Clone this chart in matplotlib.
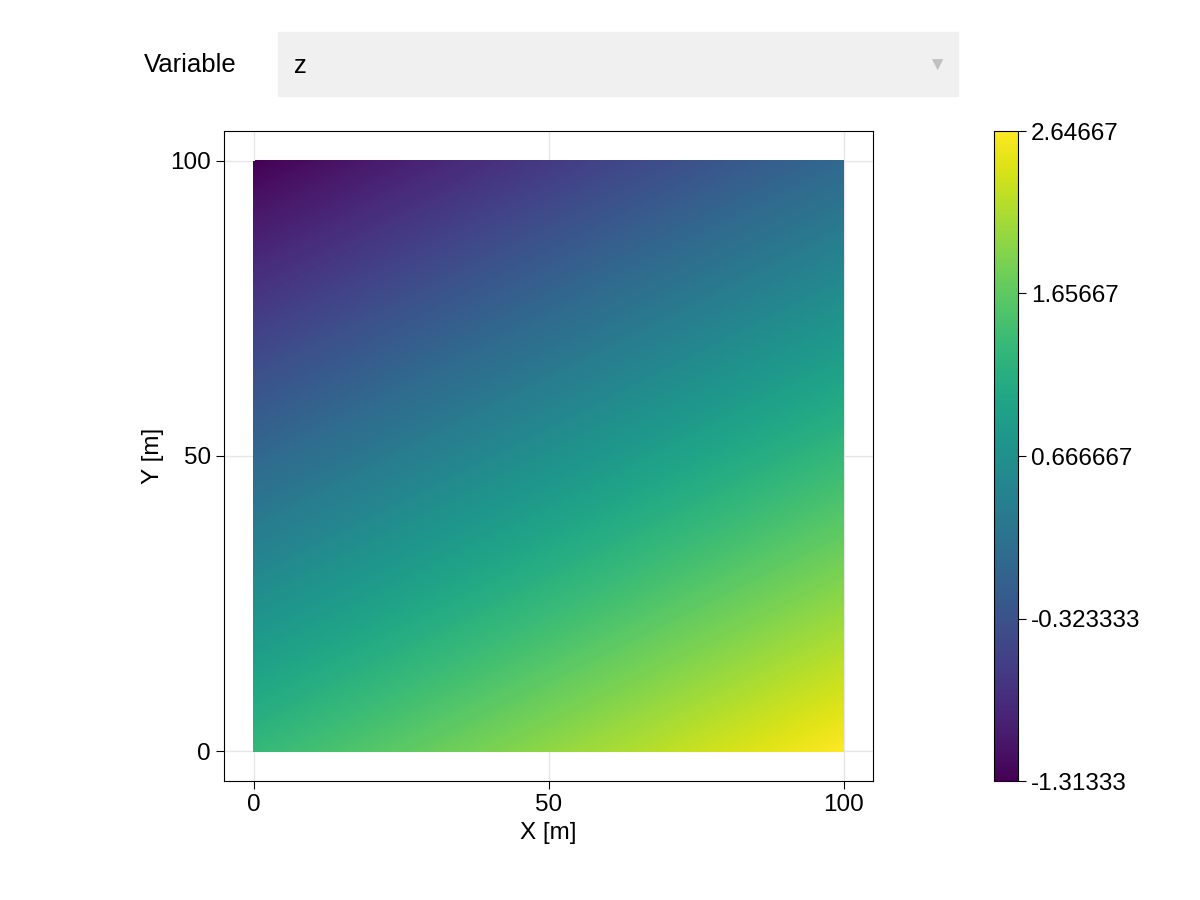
import matplotlib
matplotlib.use("Agg")
import matplotlib.pyplot as plt
import numpy as np
from matplotlib.patches import Rectangle

plt.rcParams['font.family'] = ['Liberation Sans', 'DejaVu Sans']
FS = 17.5

x = [0, 100]
y = [0, 100]
# corner values z[y_index][x_index]
z = [[1.32, 2.64667],
     [-1.31333, 0.01333]]
cticks = [-1.31333, -0.323333, 0.666667, 1.65667, 2.64667]
clabels = ["-1.31333", "-0.323333", "0.666667", "1.65667", "2.64667"]

W, H = 1200, 900
fig = plt.figure(figsize=(12, 9), dpi=100)
ax = fig.add_axes([224/W, 1-781/H, (873-224)/W, (781-131)/H])
X, Y = np.meshgrid(x, y)
vmin, vmax = min(cticks), max(cticks)
levels = np.linspace(vmin - 0.02, vmax + 0.02, 300)
cs = ax.contourf(X, Y, np.array(z), levels=levels, cmap='viridis',
                 vmin=vmin, vmax=vmax, zorder=2, antialiased=False)
ax.set_xlim(-5, 105); ax.set_ylim(-5, 105)
ax.set_xticks([0, 50, 100]); ax.set_yticks([0, 50, 100])
ax.grid(True, color='#e6e6e6', lw=1, zorder=0)
ax.tick_params(direction='out', length=6, labelsize=FS)
ax.set_xlabel("X [m]", fontsize=FS)
ax.set_ylabel("Y [m]", fontsize=FS)

cax = fig.add_axes([994/W, 1-781/H, 24/W, (781-131)/H])
sm = plt.cm.ScalarMappable(cmap='viridis', norm=plt.Normalize(vmin, vmax))
cb = fig.colorbar(sm, cax=cax)
cb.set_ticks(cticks); cb.set_ticklabels(clabels)
cax.tick_params(labelsize=FS, length=6)

fig.text(190/W, 1-65/H, "Variable", ha='center', va='center', fontsize=FS+1)
fig.patches.append(Rectangle((278/W, 1-96/H), (958-278)/W, 64/H,
                             transform=fig.transFigure, color='#f0f0f0'))
fig.text(294/W, 1-66/H, "z", ha='left', va='center', fontsize=FS+1)
fig.text(937/W, 1-66/H, "▼", ha='center', va='center', fontsize=14, color='#c0c0c0')

fig.savefig("out.png", dpi=100)
